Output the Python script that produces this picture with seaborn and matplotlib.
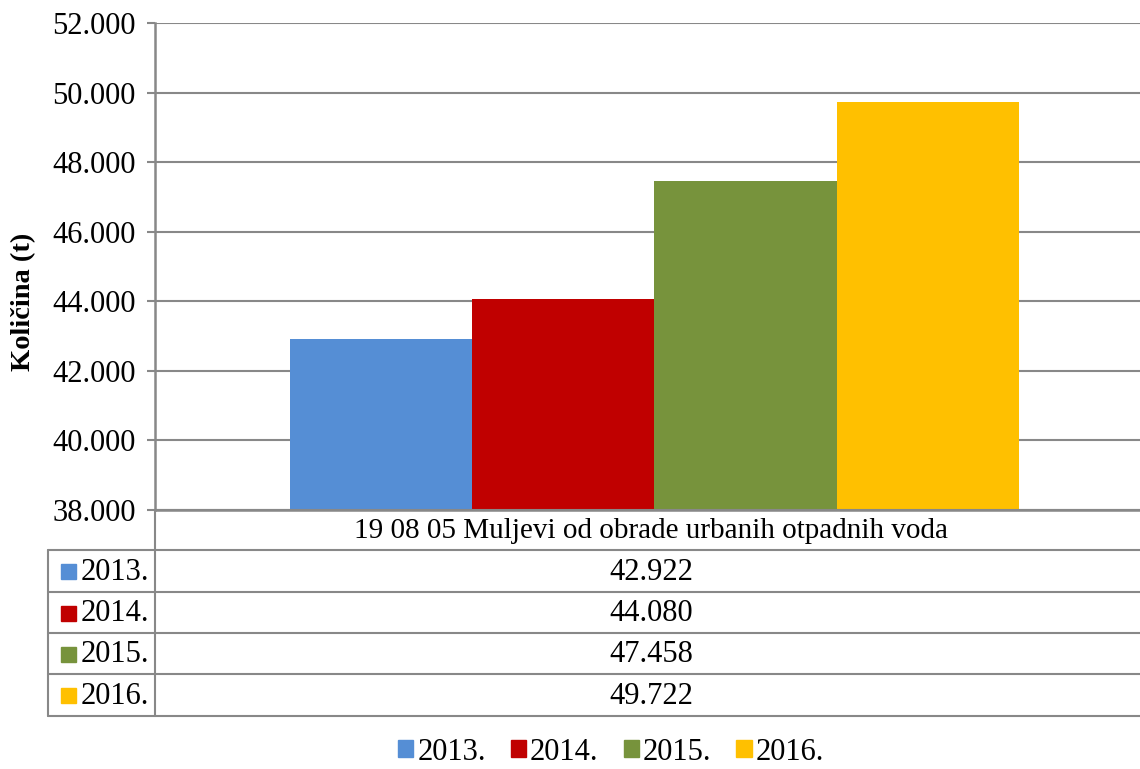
import numpy as np
import pandas as pd
import matplotlib
matplotlib.use("Agg")
import matplotlib.pyplot as plt
from matplotlib.ticker import FuncFormatter, MultipleLocator
from matplotlib.patches import Rectangle
import seaborn as sns

# ---- data ----
category = ["19 08 05 Muljevi od obrade urbanih otpadnih voda"]
years = ["2013.", "2014.", "2015.", "2016."]
values = [42922, 44080, 47458, 49722]
colors = ["#558ED5", "#C00000", "#77933C", "#FFC000"]
y_label = "Količina (t)"

sns.set_theme(style="white")
plt.rcParams["font.family"] = ["Liberation Serif", "DejaVu Serif"]
plt.rcParams["text.color"] = "black"
plt.rcParams["axes.labelcolor"] = "black"
plt.rcParams["ytick.color"] = "black"

W, H = 1140, 769
fig = plt.figure(figsize=(W / 100, H / 100), dpi=100)

def fmt(v):
    return f"{int(round(v)):,}".replace(",", ".")

FS = 22
# main axes (pixel layout)
L, R, T, B = 155, 1140, 23, 510
ax = fig.add_axes([L / W, 1 - B / H, (R - L) / W, (B - T) / H])

df = pd.DataFrame({"cat": category * len(years), "year": years, "val": values})
sns.barplot(data=df, x="cat", y="val", hue="year", palette=colors,
            width=0.74, linewidth=0, saturation=1, ax=ax, legend=False, zorder=3)

grid_c = "#888888"
ax.set_ylim(38000, 52000)
ax.yaxis.set_major_locator(MultipleLocator(2000))
ax.yaxis.set_major_formatter(FuncFormatter(lambda v, p: fmt(v)))
ax.grid(axis="y", color=grid_c, linewidth=1.5, zorder=0)
ax.set_axisbelow(True)
for s in ["top", "right"]:
    ax.spines[s].set_visible(False)
for s in ["left", "bottom"]:
    ax.spines[s].set_color(grid_c)
    ax.spines[s].set_linewidth(1.8)
ax.tick_params(axis="y", which="major", direction="out", length=6, width=1.5,
               color=grid_c, labelcolor="black", labelsize=FS, pad=8, left=True)
ax.tick_params(axis="x", bottom=False, labelbottom=False)
ax.set_xlabel("")
ax.set_ylabel("")
ax.set_xlim(-0.507, 0.493)

fig.text(24 / W, 1 - 302 / H, y_label, rotation=90, ha="center", va="center",
         fontsize=20.5, fontweight="bold", color="black")

# table overlay (pixel coordinates)
tx = fig.add_axes([0, 0, 1, 1])
tx.set_xlim(0, W)
tx.set_ylim(H, 0)
tx.axis("off")
tx.patch.set_alpha(0)

row_y = [550, 592, 633, 674, 716]
lw = 1.5
tx.plot([L, R], [B, B], color=grid_c, lw=lw)
for y in row_y:
    tx.plot([48, R], [y, y], color=grid_c, lw=lw)
tx.plot([L, L], [B, row_y[-1]], color=grid_c, lw=lw)
tx.plot([48, 48], [row_y[0], row_y[-1]], color=grid_c, lw=lw)

cx = 651
tx.text(cx, (B + row_y[0]) / 2 + 1, category[0], ha="center", va="center", fontsize=21)
for i, (yr, v, c) in enumerate(zip(years, values, colors)):
    yc = (row_y[i] + row_y[i + 1]) / 2
    tx.add_patch(Rectangle((61, yc - 7), 15, 15, color=c))
    tx.text(81, yc + 1, yr, ha="left", va="center", fontsize=FS)
    tx.text(cx, yc + 1, fmt(v), ha="center", va="center", fontsize=FS)

# bottom legend
handles = [Rectangle((0, 0), 1, 1, color=c) for c in colors]
fig.legend(handles, years, loc="center", bbox_to_anchor=(611 / W, 1 - 752 / H),
           ncol=4, frameon=False, fontsize=FS, handlelength=0.5, handleheight=0.5,
           handletextpad=0.13, columnspacing=0.82, borderpad=0, borderaxespad=0)

fig.savefig("out.png", dpi=100)
